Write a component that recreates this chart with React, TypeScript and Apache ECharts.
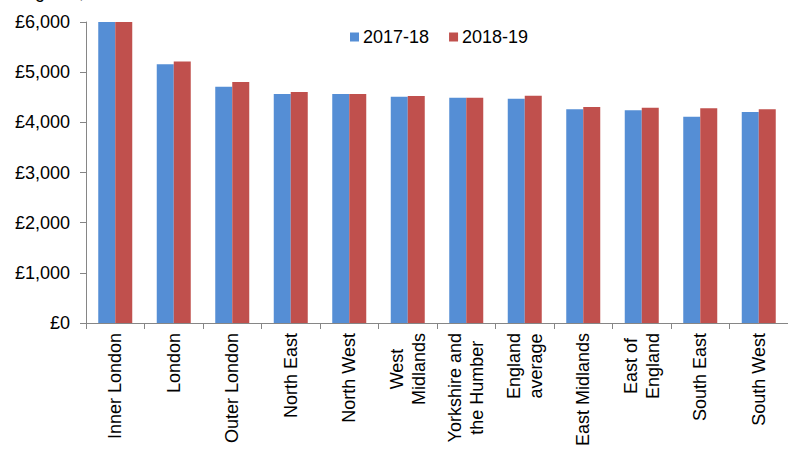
import React, { useEffect, useRef } from "react";
import * as echarts from "echarts";

const categories = [
  "Inner London",
  "London",
  "Outer London",
  "North East",
  "North West",
  "West\nMidlands",
  "Yorkshire and\nthe Humber",
  "England\naverage",
  "East Midlands",
  "East of\nEngland",
  "South East",
  "South West",
];
const series2017 = [6000, 5160, 4710, 4565, 4565, 4510, 4490, 4470, 4260, 4240, 4110, 4205];
const series2018 = [6000, 5215, 4805, 4605, 4565, 4525, 4490, 4530, 4305, 4290, 4280, 4260];
const yTicks = [0, 1000, 2000, 3000, 4000, 5000, 6000];
const titleText = "England, 2017-18 to 2018-19";

const FONT = "'Liberation Sans', Arial, sans-serif";

export default function App() {
  const ref = useRef<HTMLDivElement>(null);
  useEffect(() => {
    if (!ref.current) return;
    const chart = echarts.init(ref.current, undefined, { renderer: "svg" });
    chart.setOption({
      animation: false,
      backgroundColor: "#ffffff",
      textStyle: { fontFamily: FONT },
      graphic: [
        {
          type: "text",
          left: 13,
          top: -17,
          style: { text: titleText, font: `18px ${FONT}`, fill: "#000" },
        },
      ],
      legend: {
        left: 345,
        top: 23,
        icon: "rect",
        itemWidth: 9,
        itemHeight: 9,
        itemGap: 20,
        textStyle: { fontSize: 18, color: "#000", fontFamily: FONT, padding: [0, 0, 0, -1] },
        data: ["2017-18", "2018-19"],
      },
      grid: { left: 86, top: 22, width: 708, height: 301, containLabel: false },
      xAxis: {
        type: "category",
        data: categories,
        boundaryGap: true,
        axisLine: { lineStyle: { color: "#868686", width: 1 } },
        axisTick: { show: true, length: 6, alignWithLabel: false, lineStyle: { color: "#868686" } },
        axisLabel: {
          interval: 0,
          rotate: 90,
          margin: 10,
          color: "#000",
          fontSize: 18,
          fontFamily: FONT,
          lineHeight: 22,
          formatter: (v: string) =>
            v
              .split("\n")
              .map((l) => `{c|${l}}`)
              .join("\n"),
          rich: { c: { align: "center", fontSize: 18, fontFamily: FONT, color: "#000", lineHeight: 22 } },
        },
      },
      yAxis: {
        type: "value",
        min: yTicks[0],
        max: yTicks[yTicks.length - 1],
        interval: 1000,
        splitLine: { show: false },
        axisLine: { show: true, lineStyle: { color: "#868686", width: 1 } },
        axisTick: { show: true, length: 6, lineStyle: { color: "#868686" } },
        axisLabel: {
          margin: 16,
          color: "#000",
          fontSize: 18,
          fontFamily: FONT,
          formatter: (v: number) => "£" + v.toLocaleString("en-GB"),
        },
      },
      series: [
        {
          name: "2017-18",
          type: "bar",
          data: series2017,
          barWidth: 17,
          barGap: "0%",
          itemStyle: { color: "#558ED5" },
        },
        {
          name: "2018-19",
          type: "bar",
          data: series2018,
          barWidth: 17,
          barGap: "0%",
          itemStyle: { color: "#C0504D" },
        },
      ],
    });
    return () => chart.dispose();
  }, []);
  return (
    <div
      ref={ref}
      style={{ position: "fixed", left: 0, top: 0, width: 788, height: 450 }}
    />
  );
}
